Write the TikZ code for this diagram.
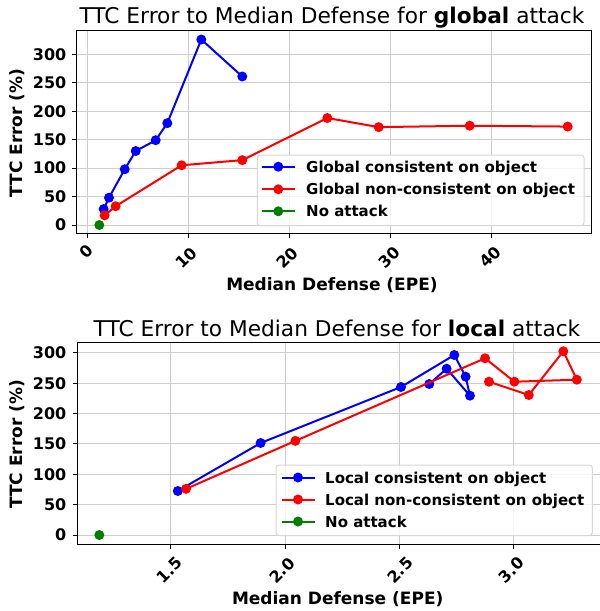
\documentclass[tikz,border=0pt]{standalone}
\usepackage{fontspec}
\setmainfont{DejaVu Sans}
\definecolor{mblue}{RGB}{0,0,255}
\definecolor{mred}{RGB}{255,0,0}
\definecolor{mgreen}{RGB}{0,128,0}
\definecolor{gridc}{RGB}{205,205,205}
\definecolor{legc}{RGB}{215,215,215}
\begin{document}
\begin{tikzpicture}[x=1pt,y=-1pt,
  gridline/.style={draw=gridc,line width=1pt},
  spine/.style={draw=black,line width=1pt},
  tickmark/.style={draw=black,line width=1pt},
  ticklab/.style={font=\fontsize{16}{19}\selectfont\bfseries,inner sep=0pt},
  xticklab/.style={ticklab,rotate=45,anchor=center},
  yticklab/.style={ticklab,anchor=east},
  axlabel/.style={font=\fontsize{17}{20}\selectfont\bfseries,inner sep=0pt},
  titlelab/.style={font=\fontsize{21.7}{26}\selectfont,inner sep=0pt,anchor=base},
  legtext/.style={font=\fontsize{15}{18}\selectfont\bfseries,inner sep=0pt,anchor=base west},
  legbox/.style={draw=legc,line width=1pt,fill=white,fill opacity=0.8,rounded corners=3pt},
  series/.style={line width=2pt,line join=round}
]
\useasboundingbox (0,0) rectangle (600,611);
\clip (0,0) rectangle (600,611);
\fill[white] (0,0) rectangle (600,611);

% ================= TOP PLOT =================
\foreach \v in {0,10,20,30,40}{
  \pgfmathsetmacro\px{87.5+10.09*\v}
  \draw[gridline] (\px,30) -- (\px,233.5);
  \draw[tickmark] (\px,233.5) -- (\px,238);
}
\foreach \v in {0,50,...,300}{
  \pgfmathsetmacro\py{225-0.569*\v}
  \draw[gridline] (76.7,\py) -- (591,\py);
  \draw[tickmark] (76.7,\py) -- (72.2,\py);
  \node[yticklab] (ty\v) at (66.5,\py) {\v};
}
\node[xticklab] (tx0) at (86,251) {0};
\node[xticklab] (tx10) at (186.7,258) {10};
\node[xticklab] (tx20) at (287,258) {20};
\node[xticklab] (tx30) at (389,257.5) {30};
\node[xticklab] (tx40) at (490,257) {40};

\begin{scope}[shift={(87.5,225)},x=10.09pt,y=0.569pt]
  \coordinate (tb1) at (1.6,28);
  \coordinate (tb2) at (2.13,48);
  \coordinate (tb3) at (3.69,98);
  \coordinate (tb4) at (4.78,130);
  \coordinate (tb5) at (6.76,149);
  \coordinate (tb6) at (7.91,179);
  \coordinate (tb7) at (11.28,326);
  \coordinate (tb8) at (15.34,261);
  \coordinate (tr1) at (1.7,17);
  \coordinate (tr2) at (2.79,33);
  \coordinate (tr3) at (9.33,105);
  \coordinate (tr4) at (15.34,114);
  \coordinate (tr5) at (23.77,188);
  \coordinate (tr6) at (28.86,172);
  \coordinate (tr7) at (37.88,174.5);
  \coordinate (tr8) at (47.59,173);
  \coordinate (tg1) at (1.17,0);
\end{scope}
\draw[series,mblue] (tb1) -- (tb2) -- (tb3) -- (tb4) -- (tb5) -- (tb6) -- (tb7) -- (tb8);
\foreach \p in {tb1,tb2,tb3,tb4,tb5,tb6,tb7,tb8} \fill[mblue] (\p) circle[radius=5pt];
\draw[series,mred] (tr1) -- (tr2) -- (tr3) -- (tr4) -- (tr5) -- (tr6) -- (tr7) -- (tr8);
\foreach \p in {tr1,tr2,tr3,tr4,tr5,tr6,tr7,tr8} \fill[mred] (\p) circle[radius=5pt];
\fill[mgreen] (tg1) circle[radius=5pt];

\draw[spine] (76.7,30) rectangle (591,233.5);

\draw[legbox] (257.3,155) rectangle (584,225.7);
\coordinate (tl1a) at (261.7,166.7); \coordinate (tl1b) at (295,166.7);
\coordinate (tl2a) at (261.7,189.3); \coordinate (tl2b) at (295,189.3);
\coordinate (tl3a) at (261.7,211.3); \coordinate (tl3b) at (295,211.3);
\draw[series,mblue] (tl1a) -- (tl1b); \fill[mblue] (278.3,166.7) circle[radius=5pt];
\draw[series,mred] (tl2a) -- (tl2b); \fill[mred] (278.3,189.3) circle[radius=5pt];
\draw[series,mgreen] (tl3a) -- (tl3b); \fill[mgreen] (278.3,211.3) circle[radius=5pt];
\node[legtext] (tlt1) at (306,172.2) {Global consistent on object};
\node[legtext] (tlt2) at (306,194.8) {Global non-consistent on object};
\node[legtext] (tlt3) at (306,216.8) {No attack};

\node[titlelab] (ttitle) at (332,23.3) {TTC Error to Median Defense for \textbf{global} attack};
\node[axlabel,anchor=base] (txlab) at (332,290) {Median Defense (EPE)};
\node[axlabel,rotate=90] (tylab) at (17.5,133) {TTC Error (\%)};

% ================= BOTTOM PLOT =================
\foreach \v/\l in {1.5/1.5,2.0/2.0,2.5/2.5,3.0/3.0}{
  \pgfmathsetmacro\px{-172.5+228.8*\v}
  \draw[gridline] (\px,342.5) -- (\px,544.5);
  \draw[tickmark] (\px,544.5) -- (\px,549);
}
\foreach \v in {0,50,...,300}{
  \pgfmathsetmacro\py{535-0.6073*\v}
  \draw[gridline] (77,\py) -- (605,\py);
  \draw[tickmark] (77,\py) -- (72.5,\py);
  \node[yticklab] (by\v) at (66.5,\py) {\v};
}
\node[xticklab] (bx15) at (169.2,570) {1.5};
\node[xticklab] (bx20) at (282,570.5) {2.0};
\node[xticklab] (bx25) at (400,570) {2.5};
\node[xticklab] (bx30) at (511.7,570) {3.0};

\begin{scope}[shift={(-172.5,535)},x=228.8pt,y=0.6073pt]
  \coordinate (bb1) at (1.531,72.5);
  \coordinate (bb2) at (1.893,151.5);
  \coordinate (bb3) at (2.5066,243.7);
  \coordinate (bb4) at (2.7395,296.4);
  \coordinate (bb5) at (2.789,260.7);
  \coordinate (bb6) at (2.808,229.4);
  \coordinate (bb7) at (2.706,273.8);
  \coordinate (bb8) at (2.630,248.6);
  \coordinate (br1) at (1.567,76);
  \coordinate (br2) at (2.045,155);
  \coordinate (br3) at (2.874,291);
  \coordinate (br4) at (3.002,252.4);
  \coordinate (br5) at (3.275,255.7);
  \coordinate (br6) at (3.216,302.5);
  \coordinate (br7) at (3.065,230.5);
  \coordinate (br8) at (2.891,252.4);
  \coordinate (bg1) at (1.188,0);
\end{scope}
\draw[series,mblue] (bb1) -- (bb2) -- (bb3) -- (bb4) -- (bb5) -- (bb6) -- (bb7) -- (bb8);
\foreach \p in {bb1,bb2,bb3,bb4,bb5,bb6,bb7,bb8} \fill[mblue] (\p) circle[radius=5pt];
\draw[series,mred] (br1) -- (br2) -- (br3) -- (br4) -- (br5) -- (br6) -- (br7) -- (br8);
\foreach \p in {br1,br2,br3,br4,br5,br6,br7,br8} \fill[mred] (\p) circle[radius=5pt];
\fill[mgreen] (bg1) circle[radius=5pt];

\draw[spine] (77,342.5) rectangle (605,544.5);

\draw[legbox] (276,465) rectangle (592.3,535.7);
\coordinate (bl1a) at (281.5,477.5); \coordinate (bl1b) at (314.5,477.5);
\coordinate (bl2a) at (281.5,499.5); \coordinate (bl2b) at (314.5,499.5);
\coordinate (bl3a) at (281.5,521.5); \coordinate (bl3b) at (314.5,521.5);
\draw[series,mblue] (bl1a) -- (bl1b); \fill[mblue] (298,477.5) circle[radius=5pt];
\draw[series,mred] (bl2a) -- (bl2b); \fill[mred] (298,499.5) circle[radius=5pt];
\draw[series,mgreen] (bl3a) -- (bl3b); \fill[mgreen] (298,521.5) circle[radius=5pt];
\node[legtext] (blt1) at (325,483) {Local consistent on object};
\node[legtext] (blt2) at (325,505) {Local non-consistent on object};
\node[legtext] (blt3) at (325,527) {No attack};

\node[titlelab] (btitle) at (337,336) {TTC Error to Median Defense for \textbf{local} attack};
\node[axlabel,anchor=base] (bxlab) at (337.7,604) {Median Defense (EPE)};
\node[axlabel,rotate=90] (bylab) at (17.5,444.5) {TTC Error (\%)};
\end{tikzpicture}
\end{document}
